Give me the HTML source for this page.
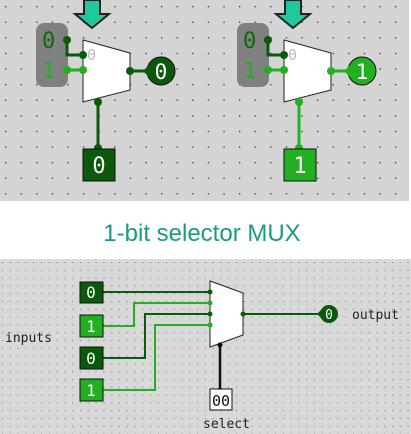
<!DOCTYPE html>
<html><head><style>
body{margin:0;width:411px;height:434px;background:#fff;overflow:hidden}
svg{display:block}
text{font-family:"DejaVu Sans Mono","Liberation Mono",monospace}
</style></head><body>
<svg width="411" height="434" viewBox="0 0 411 434">
<defs>
<pattern id="g1" x="5" y="6" width="15.6" height="15.6" patternUnits="userSpaceOnUse"><rect width="1.3" height="1.3" fill="#333"/></pattern>
<pattern id="g2" x="2" y="262" width="7.8" height="7.8" patternUnits="userSpaceOnUse"><rect width="1" height="1" fill="#777"/></pattern>
<g id="one">
  <rect x="36" y="23" width="32" height="64" rx="8" fill="#808080"/>
  <polygon points="83,40 130,53 130,90 83,102" fill="#fff" stroke="#222" stroke-width="1"/>
  <text x="87" y="60" font-size="15" fill="#bbb">0</text>
  <path d="M67,40 V55 H83" stroke="#0b5a0b" stroke-width="3" fill="none"/>
  <circle cx="67" cy="40" r="4" fill="#0b5a0b"/><circle cx="83" cy="55" r="4" fill="#0b5a0b"/>
  <line x1="67" y1="70" x2="83" y2="70" stroke="#22b022" stroke-width="3"/>
  <circle cx="67" cy="70" r="4" fill="#22b022"/><circle cx="83" cy="70" r="4" fill="#22b022"/>
  <text x="42" y="48" font-size="22" fill="#0b6a0b">0</text>
  <text x="42" y="78" font-size="22" fill="#22b022">1</text>
  <polygon points="84,0 100,0 100,14 109,14 92,28 75,14 84,14" fill="#1ec99b" stroke="#222" stroke-width="2"/>
</g>
</defs>
<rect x="0" y="0" width="409" height="201" fill="#d4d4d4"/>
<rect x="0" y="0" width="409" height="201" fill="url(#g1)"/>
<rect x="0" y="259" width="411" height="175" fill="#d8d8d8"/>
<rect x="0" y="259" width="411" height="175" fill="url(#g2)"/>

<use href="#one"/>
<line x1="130" y1="71" x2="150" y2="71" stroke="#0b5a0b" stroke-width="3"/>
<circle cx="130" cy="71" r="4" fill="#0b5a0b"/>
<circle cx="161" cy="71" r="14" fill="#0b5a0b" stroke="#111" stroke-width="1"/>
<polygon points="143,71 150,64 150,78" fill="#0b5a0b"/>
<text x="161" y="79" font-size="21" fill="#fff" text-anchor="middle">0</text>
<line x1="98" y1="102" x2="98" y2="150" stroke="#0b5a0b" stroke-width="3"/>
<circle cx="98" cy="102" r="4" fill="#0b5a0b"/><circle cx="98" cy="148" r="4" fill="#0b5a0b"/>
<rect x="83" y="149" width="32" height="32" fill="#0b5a0b" stroke="#111"/>
<text x="99" y="173" font-size="22" fill="#fff" text-anchor="middle">0</text>

<use href="#one" x="201"/>
<line x1="331" y1="71" x2="351" y2="71" stroke="#22b022" stroke-width="3"/>
<circle cx="331" cy="71" r="4" fill="#22b022"/>
<circle cx="362" cy="71" r="14" fill="#22b022" stroke="#111" stroke-width="1"/>
<polygon points="344,71 351,64 351,78" fill="#22b022"/>
<text x="362" y="79" font-size="21" fill="#fff" text-anchor="middle">1</text>
<line x1="299" y1="102" x2="299" y2="150" stroke="#22b022" stroke-width="3"/>
<circle cx="299" cy="102" r="4" fill="#22b022"/><circle cx="299" cy="148" r="4" fill="#22b022"/>
<rect x="284" y="149" width="32" height="32" fill="#22b022" stroke="#111"/>
<text x="300" y="173" font-size="22" fill="#fff" text-anchor="middle">1</text>

<text x="202" y="241" font-size="24" fill="#1a9a80" text-anchor="middle" style="font-family:'Liberation Sans',sans-serif">1-bit selector MUX</text>

<!-- bottom -->
<polygon points="210,281 243,293 243,335 210,347" fill="#fff" stroke="#222"/>
<path d="M103,292 H210" stroke="#0b5a0b" stroke-width="2" fill="none"/>
<path d="M103,326 H134 V303 H210" stroke="#22b022" stroke-width="2" fill="none"/>
<path d="M103,358 H145 V314 H210" stroke="#0b5a0b" stroke-width="2" fill="none"/>
<path d="M103,390 H155 V325 H210" stroke="#22b022" stroke-width="2" fill="none"/>
<circle cx="210" cy="292" r="2.5" fill="#0b5a0b"/><circle cx="210" cy="303" r="2.5" fill="#22b022"/>
<circle cx="210" cy="314" r="2.5" fill="#0b5a0b"/><circle cx="210" cy="325" r="2.5" fill="#22b022"/>
<g font-size="16" fill="#fff" text-anchor="middle">
<rect x="80" y="282" width="23" height="21" fill="#0b5a0b" stroke="#111"/><text x="91" y="298">0</text>
<rect x="80" y="315" width="23" height="22" fill="#22b022" stroke="#111"/><text x="91" y="332">1</text>
<rect x="80" y="347" width="23" height="22" fill="#0b5a0b" stroke="#111"/><text x="91" y="364">0</text>
<rect x="80" y="379" width="23" height="22" fill="#22b022" stroke="#111"/><text x="91" y="396">1</text>
</g>
<line x1="243" y1="314" x2="322" y2="314" stroke="#0b5a0b" stroke-width="2"/>
<circle cx="243" cy="314" r="2.5" fill="#0b5a0b"/>
<circle cx="329" cy="314" r="9" fill="#0b5a0b"/>
<polygon points="317,314 322,309 322,319" fill="#0b5a0b"/>
<text x="329" y="319" font-size="13" fill="#fff" text-anchor="middle">0</text>
<text x="352" y="319" font-size="13" fill="#222">output</text>
<text x="5" y="342" font-size="13" fill="#222">inputs</text>
<line x1="220" y1="345" x2="220" y2="390" stroke="#111" stroke-width="2.5"/>
<circle cx="220" cy="345" r="2.5" fill="#111"/><circle cx="220" cy="390" r="2.5" fill="#111"/>
<rect x="210" y="389" width="22" height="21" fill="#fff" stroke="#111"/>
<text x="221" y="406" font-size="15" fill="#111" text-anchor="middle">00</text>
<text x="203" y="428" font-size="13" fill="#222">select</text>
</svg>
</body></html>
